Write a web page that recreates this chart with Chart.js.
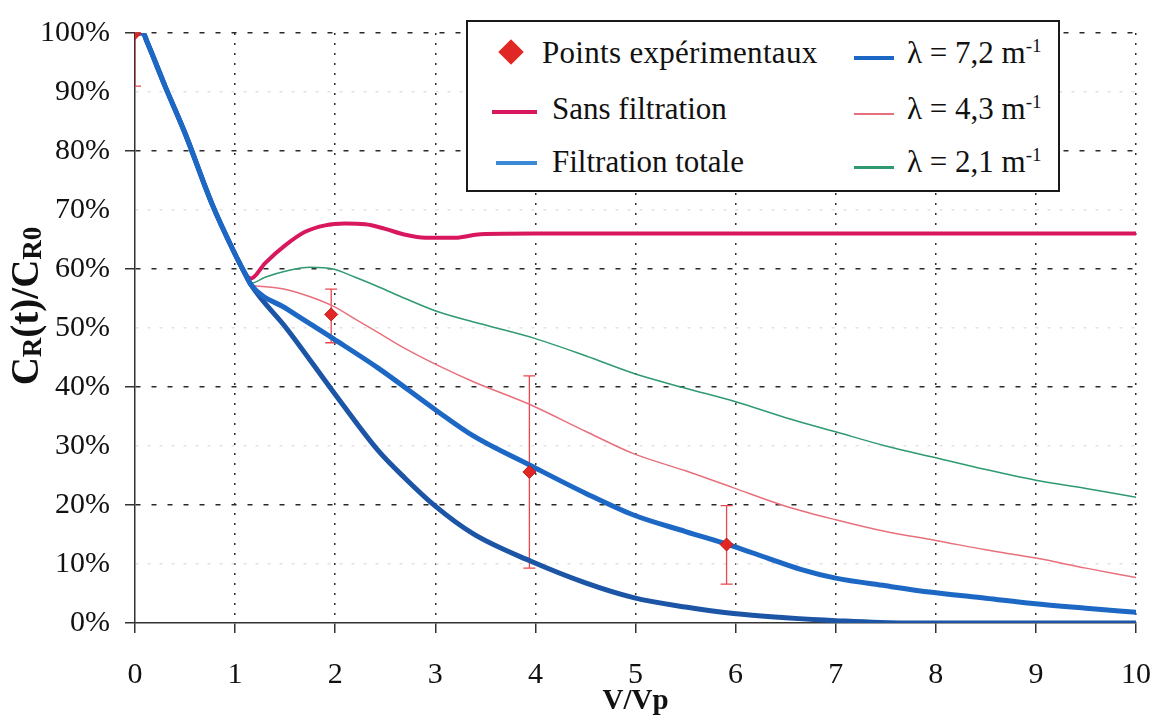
<!DOCTYPE html>
<html lang="fr">
<head>
<meta charset="utf-8">
<script src="https://cdn.jsdelivr.net/npm/chart.js@4.4.1/dist/chart.umd.min.js"></script>
<style>
    body { margin: 0; background: #fff; }
    #wrap { position: relative; width: 1175px; height: 723px; }
    #legend {
        position: absolute; left: 466px; top: 20px; width: 590px; height: 168px;
        border: 2px solid #1a1a1a; background: #fff;
        font-family: "Liberation Serif", "DejaVu Serif", serif; font-size: 31px; color: #111;
    }
    .item { position: absolute; line-height: 31px; white-space: nowrap; }
    .swatch { position: absolute; height: 4px; }
    .diamond { position: absolute; width: 18px; height: 18px; transform: rotate(45deg); }
    sup { font-size: 19px; vertical-align: 11px; line-height: 0; }
</style>
</head>
<body>
<div id="wrap">
    <canvas id="chart" width="1175" height="723"></canvas>
    <div id="legend"></div>
</div>
<script>
// --- Data (x = V/Vp, y = C_R(t)/C_R0 in %) ---

// common part of every model curve, before they split near V/Vp = 1.15
const startX = [0, 0.08, 0.12, 0.3, 0.5, 0.77, 1.0, 1.1];
const startY = [100, 100, 98.5, 91, 83, 71, 62.5, 59.2];

const sansX = [1.16, 1.3, 1.5, 1.7, 1.9, 2.1, 2.3, 2.5, 2.7, 2.9, 3.2, 3.45, 4, 5, 6, 7, 8, 9, 10];
const sansY = [58.4, 61, 64, 66.3, 67.4, 67.7, 67.6, 66.8, 65.8, 65.3, 65.3, 65.9, 66, 66, 66, 66, 66, 66, 66];

const totaleX = [1.16, 1.52, 1.98, 2.43, 2.7, 3.0, 3.38, 3.95, 4.5, 4.98, 5.5, 5.98, 6.5, 7, 7.7, 8, 9, 10];
const totaleY = [57.3, 49.8, 39.2, 29.2, 24.5, 19.8, 15.1, 10.5, 6.8, 4.3, 2.7, 1.6, 0.9, 0.4, 0, 0, 0, 0];

const lambda72X = [1.16, 1.52, 1.98, 2.43, 3.02, 3.38, 3.95, 4.5, 4.98, 5.5, 5.98, 6.32, 6.65, 7.0, 7.5, 7.96, 8.5, 8.97, 9.5, 10];
const lambda72Y = [57.3, 53.2, 48.2, 43.2, 35.9, 31.7, 26.7, 22, 18.3, 15.5, 13, 11, 9.1, 7.6, 6.3, 5.2, 4.2, 3.3, 2.5, 1.8];

const lambda43X = [1.16, 1.3, 1.52, 1.75, 1.98, 2.2, 2.43, 2.7, 3.02, 3.38, 3.95, 4.5, 4.98, 5.5, 5.98, 6.5, 7, 7.5, 8, 8.5, 9, 9.5, 10];
const lambda43Y = [57.4, 57, 56.5, 55.3, 53.7, 51.5, 49.2, 46.5, 43.7, 40.9, 37, 32.5, 28.7, 25.8, 22.9, 19.8, 17.5, 15.5, 14, 12.4, 11, 9.3, 7.7];

const lambda21X = [1.16, 1.3, 1.52, 1.75, 1.98, 2.2, 2.43, 2.7, 3.02, 3.5, 4, 4.5, 5, 5.5, 6, 6.5, 7, 7.5, 8, 8.5, 9, 9.5, 10];
const lambda21Y = [57.6, 58.6, 59.7, 60.3, 60, 58.6, 57, 55, 52.8, 50.5, 48.2, 45.3, 42.2, 39.8, 37.5, 34.8, 32.4, 30, 28, 26, 24.2, 22.8, 21.3];

// experimental points with their error bars
const expX = [0, 1.96, 3.94, 5.91];
const expY = [100, 52.3, 25.6, 13.3];
const expLow = [91, 47.5, 9.3, 6.6];
const expHigh = [100, 56.6, 41.9, 19.9];

const xMin = 0, xMax = 10, xStep = 1;
const yMin = 0, yMax = 100, yStep = 10;

// --- Styles ---
const RED_POINT = '#e12626';
const SANS = '#d8175f';
const TOTALE = '#1d55a6';
const L72 = '#1c68c4';
const L43 = '#e8707c';
const L21 = '#2f9a70';
const SERIF = '"Liberation Serif", "DejaVu Serif", serif';

function toXY(xs, ys) {
    return xs.map((v, i) => ({ x: v, y: ys[i] }));
}

function curve(label, xs, ys, color, width) {
    return {
        label,
        data: toXY(startX.concat(xs), startY.concat(ys)),
        borderColor: color,
        backgroundColor: color,
        borderWidth: width,
        pointRadius: 0,
        cubicInterpolationMode: 'monotone',
        fill: false
    };
}

// error bars drawn under the curves, through the chart scales
const errorBars = {
    id: 'errorBars',
    beforeDatasetsDraw(chart) {
        const { ctx, chartArea, scales: { x, y } } = chart;
        ctx.save();
        ctx.beginPath();
        ctx.rect(chartArea.left, chartArea.top - 1, chartArea.width, chartArea.height + 2);
        ctx.clip();
        ctx.strokeStyle = '#e8474f';
        ctx.lineWidth = 1.3;
        expX.forEach((v, i) => {
            const px = x.getPixelForValue(v);
            const lo = y.getPixelForValue(expLow[i]);
            const hi = y.getPixelForValue(expHigh[i]);
            ctx.beginPath();
            ctx.moveTo(px, lo); ctx.lineTo(px, hi);
            ctx.moveTo(px - 6, lo); ctx.lineTo(px + 6, lo);
            ctx.moveTo(px - 6, hi); ctx.lineTo(px + 6, hi);
            ctx.stroke();
        });
        ctx.restore();
    }
};

// y axis title with subscripts: C_R(t)/C_R0
const yTitle = {
    id: 'yTitle',
    afterDraw(chart) {
        const ctx = chart.ctx;
        const parts = [['C', false], ['R', true], ['(t)/C', false], ['R0', true]];
        const big = `bold 39px ${SERIF}`;
        const small = `bold 27px ${SERIF}`;
        ctx.save();
        let total = 0;
        parts.forEach(p => { ctx.font = p[1] ? small : big; total += ctx.measureText(p[0]).width; });
        ctx.translate(38, 306);
        ctx.rotate(-Math.PI / 2);
        ctx.fillStyle = '#111';
        ctx.textBaseline = 'alphabetic';
        let cx = -total / 2;
        parts.forEach(p => {
            ctx.font = p[1] ? small : big;
            ctx.fillText(p[0], cx, p[1] ? 3 : 0);
            cx += ctx.measureText(p[0]).width;
        });
        ctx.restore();
    }
};

function isMajorY(v) {
    return v % 20 === 0;
}

document.addEventListener('DOMContentLoaded', () => {
    const ctx = document.getElementById('chart').getContext('2d');

    new Chart(ctx, {
        type: 'line',
        data: {
            datasets: [
                {
                    label: 'Points expérimentaux',
                    data: toXY(expX, expY),
                    showLine: false,
                    pointStyle: 'rectRot',
                    pointRadius: 6.5,
                    backgroundColor: RED_POINT,
                    borderColor: '#c81818',
                    borderWidth: 1
                },
                curve('λ = 7,2 m-1', lambda72X, lambda72Y, L72, 5),
                curve('Filtration totale', totaleX, totaleY, TOTALE, 5),
                curve('Sans filtration', sansX, sansY, SANS, 4),
                curve('λ = 4,3 m-1', lambda43X, lambda43Y, L43, 1.5),
                curve('λ = 2,1 m-1', lambda21X, lambda21Y, L21, 1.5)
            ]
        },
        options: {
            responsive: false,
            animation: false,
            layout: { padding: { top: 21, right: 20, left: 0, bottom: 0 } },
            plugins: {
                legend: { display: false },
                tooltip: { enabled: false }
            },
            scales: {
                x: {
                    type: 'linear',
                    min: xMin, max: xMax,
                    afterFit: (scale) => { scale.height = 100; },
                    ticks: {
                        stepSize: xStep,
                        padding: 24,
                        color: '#111',
                        font: { family: SERIF, size: 30 }
                    },
                    grid: {
                        color: (c) => (c.tick && c.tick.value === 0 ? 'rgba(0,0,0,0)' : '#2a2a2a'),
                        lineWidth: 1.5,
                        tickLength: 10,
                        tickColor: '#333',
                        tickWidth: 1.5
                    },
                    border: { color: '#333', width: 1.5, dash: [2, 8] },
                    title: {
                        display: true,
                        text: 'V/Vp',
                        color: '#111',
                        font: { family: SERIF, size: 29, weight: 'bold' },
                        padding: { top: 0, bottom: 4 }
                    }
                },
                y: {
                    min: yMin, max: yMax,
                    afterFit: (scale) => { scale.width = 135; },
                    ticks: {
                        stepSize: yStep,
                        padding: 15,
                        color: '#111',
                        font: { family: SERIF, size: 30 },
                        callback: (v) => v + '%'
                    },
                    grid: {
                        color: (c) => {
                            if (!c.tick || c.tick.value === 0) return 'rgba(0,0,0,0)';
                            return isMajorY(c.tick.value) ? '#2a2a2a' : '#e2e2e2';
                        },
                        lineWidth: 1.5,
                        tickLength: 10,
                        tickColor: (c) => (c.tick && isMajorY(c.tick.value) ? '#333' : 'rgba(0,0,0,0)'),
                        tickWidth: 1.5
                    },
                    border: {
                        color: '#333', width: 1.5,
                        dash: (c) => (c.tick && !isMajorY(c.tick.value) ? [3, 9] : [5, 11])
                    }
                }
            }
        },
        plugins: [errorBars, yTitle]
    });

    buildLegend();
});

// --- HTML legend, laid out like the boxed legend of the figure ---
function buildLegend() {
    const legend = document.getElementById('legend');
    const rowsTop = [15, 71, 124];
    const lineTop = [[null, 88, 139], [34, 91, 144]];

    const add = (html) => legend.insertAdjacentHTML('beforeend', html);

    // first column
    add(`<div class="diamond" style="left:34px;top:21px;background:${RED_POINT}"></div>`);
    add(`<div class="item" style="left:74px;top:${rowsTop[0]}px;letter-spacing:0.3px">Points expérimentaux</div>`);
    add(`<div class="swatch" style="left:24px;width:45px;top:${lineTop[0][1]}px;background:${SANS}"></div>`);
    add(`<div class="item" style="left:84px;top:${rowsTop[1]}px">Sans filtration</div>`);
    add(`<div class="swatch" style="left:28px;width:41px;top:${lineTop[0][2]}px;background:#3b8ad6"></div>`);
    add(`<div class="item" style="left:84px;top:${rowsTop[2]}px">Filtration totale</div>`);

    // second column
    const lambdas = [['7,2', L72, 4], ['4,3', L43, 2], ['2,1', L21, 2.5]];
    lambdas.forEach(([val, color, h], i) => {
        add(`<div class="swatch" style="left:386px;width:40px;height:${h}px;top:${lineTop[1][i]}px;background:${color}"></div>`);
        add(`<div class="item" style="left:439px;top:${rowsTop[i]}px">λ = ${val} m<sup>-1</sup></div>`);
    });
}
</script>
</body>
</html>
